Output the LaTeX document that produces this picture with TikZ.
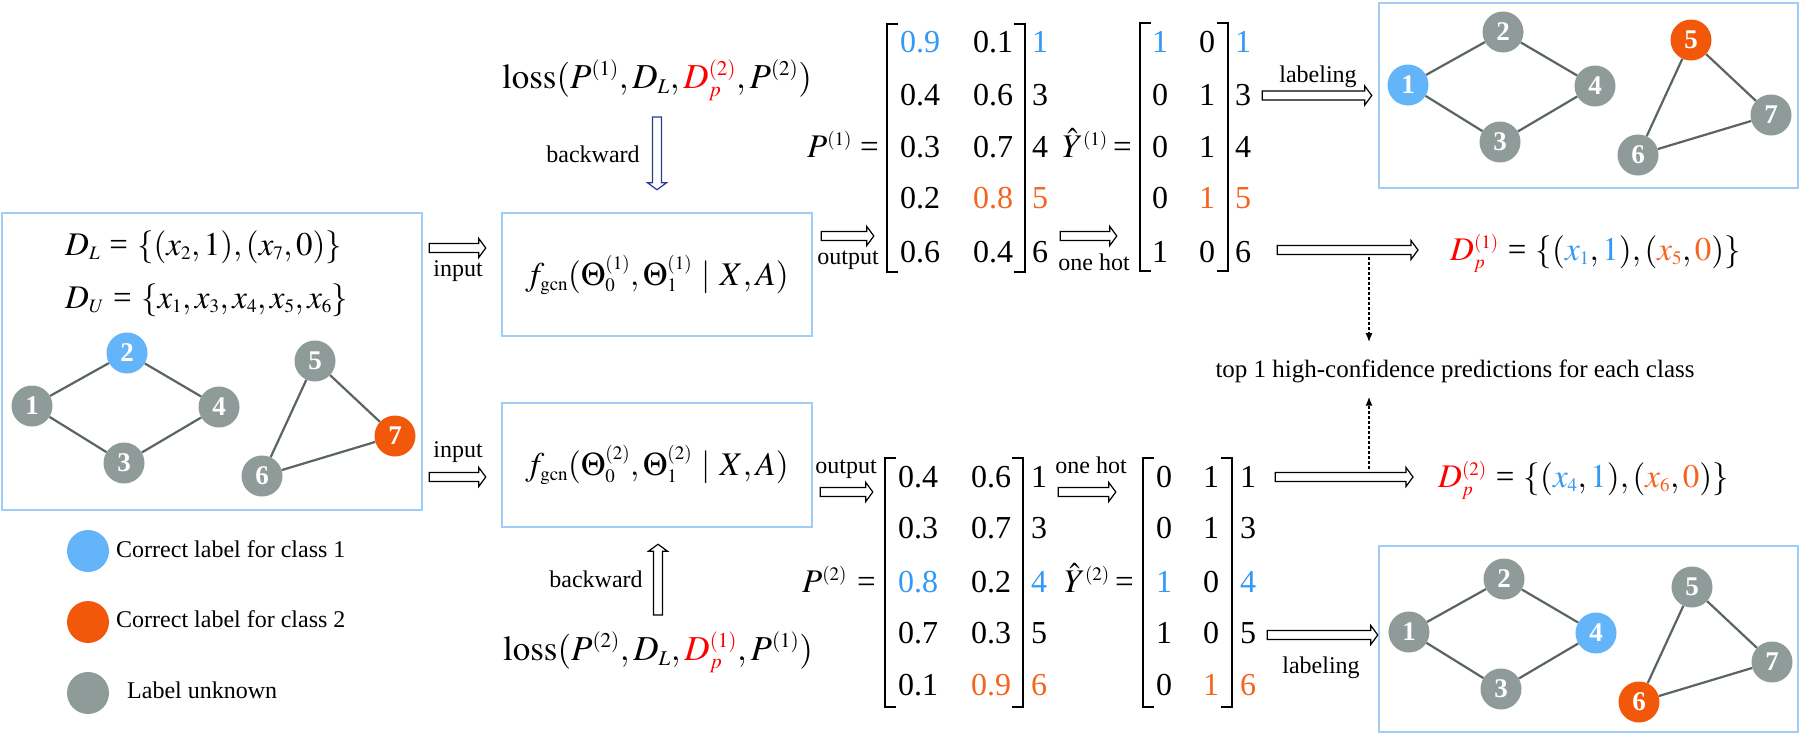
\documentclass[tikz,border=0pt]{standalone}
\usepackage{mathptmx}
\usepackage{fontspec}
\setmainfont{Liberation Serif}
\newfontfamily\tms{Liberation Serif}
\DeclareMathSizes{33}{33}{19}{14}
\DeclareMathSizes{35}{35}{21}{15}
\DeclareMathSizes{32}{32}{19}{14}
\usetikzlibrary{arrows.meta,calc}
\definecolor{boxblue}{RGB}{160,205,245}
\definecolor{nblue}{RGB}{100,180,250}
\definecolor{norange}{RGB}{242,88,10}
\definecolor{ngray}{RGB}{143,155,152}
\definecolor{tblue}{RGB}{51,153,245}
\definecolor{torange}{RGB}{245,100,30}
\definecolor{edgegray}{RGB}{90,100,100}
\definecolor{navyblue}{RGB}{40,60,150}
\newcommand{\setfs}[1]{\fontsize{#1}{#1}\selectfont}
\newcommand{\teq}{\mathrel{\hbox{\tms=}}}
\newcommand{\drawgraph}[3]{%
\begin{scope}[shift={(#2,#3)}]
 \node[vtx,c1] (#1-1) at (0,0) {1};
 \node[vtx,c2] (#1-2) at (95,-53) {2};
 \node[vtx,c3] (#1-3) at (92,57) {3};
 \node[vtx,c4] (#1-4) at (187,1) {4};
 \node[vtx,c5] (#1-5) at (283,-45) {5};
 \node[vtx,c6] (#1-6) at (230,70) {6};
 \node[vtx,c7] (#1-7) at (363,30) {7};
 \draw[gedge] (#1-1) -- (#1-2) (#1-2) -- (#1-4) (#1-1) -- (#1-3) (#1-3) -- (#1-4)
   (#1-5) -- (#1-7) (#1-5) -- (#1-6) (#1-6) -- (#1-7);
\end{scope}}
\newcommand{\brackets}[1]{%
 \draw[brk] ([xshift=11pt]#1.north west) -- (#1.north west) -- (#1.south west) -- ([xshift=11pt]#1.south west);
 \draw[brk] ([xshift=-11pt]#1.north east) -- (#1.north east) -- (#1.south east) -- ([xshift=-11pt]#1.south east);}
\tikzset{ba start/.store in=\bastart, ba end/.store in=\baend,
  ba start=0pt, ba end=0pt}
\begin{document}
\begin{tikzpicture}[x=1pt,y=-1pt,
  every node/.append style={font=\tms},
  vtx/.style={circle, fill=ngray, minimum size=41pt, inner sep=0pt, text=white, font=\tms\setfs{27}\bfseries},
  c1/.style={},c2/.style={},c3/.style={},c4/.style={},c5/.style={},c6/.style={},c7/.style={},
  isblue/.style={fill=nblue}, isorange/.style={fill=norange},
  gedge/.style={draw=edgegray, line width=2.2pt},
  frame/.style={draw=boxblue, line width=2.5pt, inner sep=0pt},
  mth/.style={font=\tms\setfs{33}, inner sep=0pt},
  small/.style={font=\tms\setfs{24}, inner sep=0pt},
  num/.style={font=\tms\setfs{32}, inner sep=0pt, anchor=base},
  barrow/.style={draw=black, fill=white, line width=1.2pt, line join=miter,
    to path={
     ($(\tikztostart)!\bastart!(\tikztotarget)$) coordinate (ba-s)
     ($(\tikztotarget)!\baend!(\tikztostart)$) coordinate (ba-t)
     ($(ba-t)!7pt!(ba-s)$) coordinate (ba-h)
     ($(ba-s)!4.5pt!90:(ba-t)$) -- ($(ba-h)!4.5pt!-90:(ba-s)$) -- ($(ba-h)!9.5pt!-90:(ba-s)$)
     -- (ba-t) -- ($(ba-h)!9.5pt!90:(ba-s)$) -- ($(ba-h)!4.5pt!90:(ba-s)$)
     -- ($(ba-s)!4.5pt!-90:(ba-t)$) -- cycle}},
  dsh/.style={densely dashed, line width=1.6pt, -{Latex[length=9pt,width=7pt]}},
  brk/.style={line width=2pt},
  hold/.style={inner sep=0pt}
]
\thickmuskip=5mu plus 4mu
\useasboundingbox[fill=white] (0,0) rectangle (1800,734);

% frames
\node[frame, minimum width=420pt, minimum height=297pt] (lbox) at (212,361.5) {};
\node[frame, minimum width=419pt, minimum height=185pt] (tbox) at (1588.5,95.5) {};
\node[frame, minimum width=419pt, minimum height=186pt] (bbox) at (1588.5,639) {};
\node[frame, minimum width=310pt, minimum height=123pt, font=\tms\setfs{33}] (gcn1) at (657,274.5)
  {$f_{\mathrm{gcn}}(\Theta_0^{(1)},\Theta_1^{(1)}\mid X,A)$};
\node[frame, minimum width=310pt, minimum height=124pt, font=\tms\setfs{33}] (gcn2) at (657,465)
  {$f_{\mathrm{gcn}}(\Theta_0^{(2)},\Theta_1^{(2)}\mid X,A)$};

% left box content
\node[mth, anchor=base west] (DL) at (65,255) {$D_L\teq\{(x_2,1),(x_7,0)\}$};
\node[mth, anchor=base west] (DU) at (65,308) {$D_U\teq\{x_1,x_3,x_4,x_5,x_6\}$};
\begin{scope}[c2/.style={isblue}, c7/.style={isorange}] \drawgraph{L}{32}{406} \end{scope}
\begin{scope}[c1/.style={isblue}, c5/.style={isorange}] \drawgraph{T}{1408}{85} \end{scope}
\begin{scope}[c4/.style={isblue}, c6/.style={isorange}] \drawgraph{B}{1409}{632} \end{scope}

% legend
\node[circle, fill=nblue, minimum size=42pt, inner sep=0pt] (lg1) at (88,551) {};
\node[circle, fill=norange, minimum size=42pt, inner sep=0pt] (lg2) at (88,622) {};
\node[circle, fill=ngray, minimum size=42pt, inner sep=0pt] (lg3) at (88,693) {};
\node[small, anchor=base west] (lgt1) at (116,557) {Correct label for class 1};
\node[small, anchor=base west] (lgt2) at (116,627) {Correct label for class 2};
\node[small, anchor=base west] (lgt3) at (127,698) {Label unknown};

% loss texts
\node[mth, font=\tms\setfs{35}, anchor=base] (loss1) at (657,88) {$\mathrm{loss}(P^{(1)},D_L,\textcolor{red}{D_p^{(2)}},P^{(2)})$};
\node[mth, font=\tms\setfs{35}, anchor=base] (loss2) at (658,660) {$\mathrm{loss}(P^{(2)},D_L,\textcolor{red}{D_p^{(1)}},P^{(1)})$};

% matrices
\node[hold, minimum width=138pt, minimum height=248pt] (P1) at (956,148) {};
\node[hold, minimum width=88pt, minimum height=248pt] (Y1) at (1184,147) {};
\node[hold, minimum width=138pt, minimum height=249pt] (P2) at (954,582.5) {};
\node[hold, minimum width=89pt, minimum height=249pt] (Y2) at (1187.5,582.5) {};
\brackets{P1}\brackets{Y1}\brackets{P2}\brackets{Y2}

\node[mth, anchor=base west] (P1lab) at (807,157) {$P^{(1)}$};
\node[mth, anchor=base east] (P1eq) at (879,157) {=};
\node[mth, anchor=base west] (Y1lab) at (1062,157) {$\hat{Y}^{(1)}$};
\node[mth, anchor=base east] (Y1eq) at (1132,157) {=};
\node[mth, anchor=base west] (P2lab) at (802,592) {$P^{(2)}$};
\node[mth, anchor=base east] (P2eq) at (876,592) {=};
\node[mth, anchor=base west] (Y2lab) at (1064,592) {$\hat{Y}^{(2)}$};
\node[mth, anchor=base east] (Y2eq) at (1134,592) {=};

\foreach \a/\ca/\b/\cb/\l/\cl/\y [count=\i] in
 {0.9/tblue/0.1/black/1/tblue/52, 0.4/black/0.6/black/3/black/105, 0.3/black/0.7/black/4/black/157,
  0.2/black/0.8/torange/5/torange/208, 0.6/black/0.4/black/6/black/262}{
 \node[num, text=\ca] (pa-a\i) at (920,\y) {\a};
 \node[num, text=\cb] (pa-b\i) at (993,\y) {\b};
 \node[num, text=\cl] (pa-l\i) at (1040,\y) {\l};
}
\foreach \a/\ca/\b/\cb/\l/\cl/\y [count=\i] in
 {1/tblue/0/black/1/tblue/52, 0/black/1/black/3/black/105, 0/black/1/black/4/black/157,
  0/black/1/torange/5/torange/208, 1/black/0/black/6/black/262}{
 \node[num, text=\ca] (ya-a\i) at (1160,\y) {\a};
 \node[num, text=\cb] (ya-b\i) at (1207,\y) {\b};
 \node[num, text=\cl] (ya-l\i) at (1243,\y) {\l};
}
\foreach \a/\ca/\b/\cb/\l/\cl/\y [count=\i] in
 {0.4/black/0.6/black/1/black/487, 0.3/black/0.7/black/3/black/538, 0.8/tblue/0.2/black/4/tblue/592,
  0.7/black/0.3/black/5/black/643, 0.1/black/0.9/torange/6/torange/695}{
 \node[num, text=\ca] (pb-a\i) at (918,\y) {\a};
 \node[num, text=\cb] (pb-b\i) at (991,\y) {\b};
 \node[num, text=\cl] (pb-l\i) at (1039,\y) {\l};
}
\foreach \a/\ca/\b/\cb/\l/\cl/\y [count=\i] in
 {0/black/1/black/1/black/487, 0/black/1/black/3/black/538, 1/tblue/0/black/4/tblue/592,
  1/black/0/black/5/black/643, 0/black/1/torange/6/torange/695}{
 \node[num, text=\ca] (yb-a\i) at (1164,\y) {\a};
 \node[num, text=\cb] (yb-b\i) at (1211,\y) {\b};
 \node[num, text=\cl] (yb-l\i) at (1248,\y) {\l};
}

% D_p texts
\node[mth, anchor=base west] (Dp1) at (1450,260)
 {$\textcolor{red}{D_p^{(1)}}\teq\{(\textcolor{tblue}{x_1},\textcolor{tblue}{1}),(\textcolor{torange}{x_5},\textcolor{torange}{0})\}$};
\node[mth, anchor=base west] (Dp2) at (1438,487)
 {$\textcolor{red}{D_p^{(2)}}\teq\{(\textcolor{tblue}{x_4},\textcolor{tblue}{1}),(\textcolor{torange}{x_6},\textcolor{torange}{0})\}$};
\node[font=\tms\setfs{25}, inner sep=0pt, anchor=base] (topc) at (1455,377) {top 1 high-confidence predictions for each class};

% small labels
\node[small, anchor=base] (inlab1) at (458,276) {input};
\node[small, anchor=base] (inlab2) at (458,457) {input};
\node[small, anchor=base] (outlab1) at (848,264) {output};
\node[small, anchor=base] (outlab2) at (846,473) {output};
\node[small, anchor=base] (ohlab1) at (1094,270) {one hot};
\node[small, anchor=base] (ohlab2) at (1091,473) {one hot};
\node[small, anchor=base] (lablab1) at (1318,82) {labeling};
\node[small, anchor=base] (lablab2) at (1321,673) {labeling};
\node[small, anchor=base] (bwlab1) at (593,162) {backward};
\node[small, anchor=base] (bwlab2) at (596,587) {backward};

% arrows
\coordinate (in1e) at ([yshift=26.5pt]gcn1.west);
\coordinate (in2e) at ([yshift=-12pt]gcn2.west);
\draw[barrow, ba start=6pt, ba end=15pt] (lbox.east |- in1e) to (in1e);
\draw[barrow, ba start=6pt, ba end=15pt] (lbox.east |- in2e) to (in2e);
\coordinate (o1s) at ([yshift=38.5pt]gcn1.east);
\coordinate (o2s) at ([yshift=-27pt]gcn2.east);
\draw[barrow, ba start=8pt, ba end=13pt] (o1s) to (o1s -| P1.west);
\draw[barrow, ba start=7pt, ba end=12pt] (o2s) to (o2s -| P2.west);
\coordinate (h1s) at ([yshift=-88pt]P1.east);
\coordinate (h2s) at ([yshift=90.5pt]P2.east);
\draw[barrow, ba start=35pt, ba end=23pt] (h1s) to (h1s -| Y1.west);
\draw[barrow, ba start=35pt, ba end=27pt] (h2s) to (h2s -| Y2.west);
\draw[barrow, ba start=34pt, ba end=6pt] (Y1.east |- tbox.west) to (tbox.west);
\coordinate (l2e) at ([yshift=4pt]bbox.west);
\draw[barrow, ba start=35pt, ba end=0pt] (l2e -| Y2.east) to (l2e);
\coordinate (d1s) at ([yshift=-103pt]Y1.east);
\coordinate (d2s) at ([yshift=105.5pt]Y2.east);
\draw[barrow, ba start=49pt, ba end=32pt] (d1s) to (d1s -| Dp1.west);
\draw[barrow, ba start=43pt, ba end=25pt] (d2s) to (d2s -| Dp2.west);
\coordinate (b1s) at ([yshift=-29pt]loss1.base);
\coordinate (b2s) at ([yshift=45pt]loss2.base);
\draw[barrow, draw=navyblue, ba end=22pt] (b1s) to (b1s |- gcn1.north);
\draw[barrow, ba end=16pt] (b2s) to (b2s |- gcn2.south);
\coordinate (da) at (1369,257);
\coordinate (db) at (1369,469);
\draw[dsh, shorten >=17pt] (da) -- (da |- topc.north);
\draw[dsh, shorten >=14pt] (db) -- (db |- topc.south);
\end{tikzpicture}
\end{document}
